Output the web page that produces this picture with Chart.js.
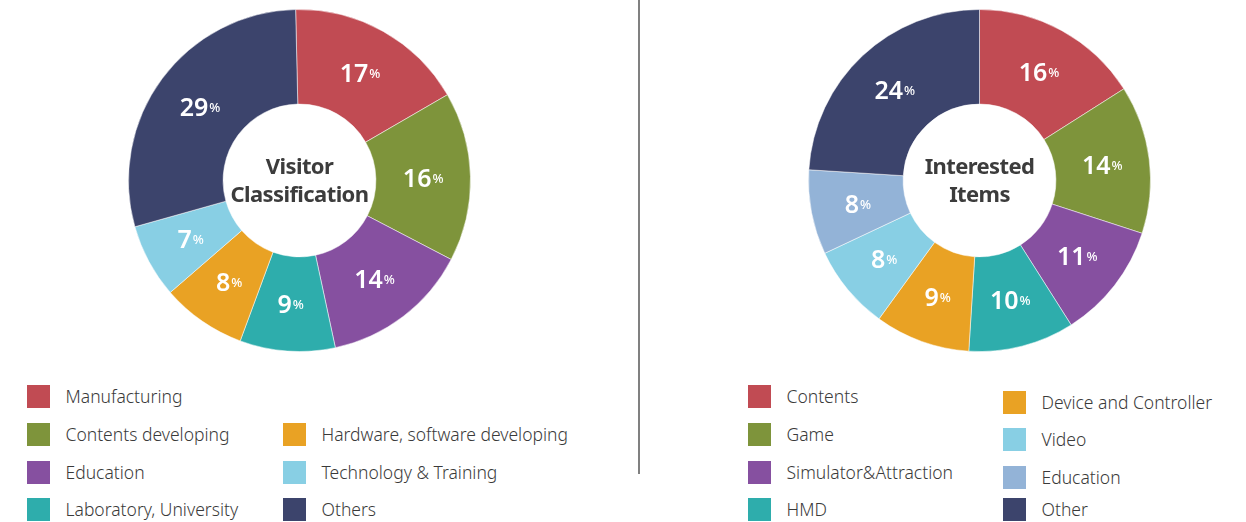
<!DOCTYPE html>
<html><head><meta charset="utf-8">
<script src="https://cdn.jsdelivr.net/npm/chart.js@4.4.0/dist/chart.umd.min.js"></script>
<style>
html,body{margin:0;padding:0;background:#fff;width:1246px;height:522px;overflow:hidden;font-family:"Noto Sans",sans-serif;}
.wrap{position:absolute;width:359px;height:359px;top:1px;}
.title{position:absolute;width:170px;text-align:center;font-weight:700;color:#3c3c3c;font-size:22px;line-height:28px;top:151px;letter-spacing:-0.6px;}
.leg{position:absolute;display:flex;align-items:center;font-size:17.5px;color:#3a3a3a;white-space:nowrap;letter-spacing:0px;font-weight:300;}
.leg span{position:relative;top:-1px;}
.sw{width:23px;height:23px;margin-right:15.5px;flex:none;}
#divider{position:absolute;left:638px;top:0;width:2px;height:474px;background:#808080;}
</style></head><body>
<div class="wrap" style="left:120px"><canvas id="c1"></canvas></div>
<div class="wrap" style="left:800px"><canvas id="c2"></canvas></div>
<div class="title" style="left:214.5px">Visitor<br>Classification</div>
<div class="title" style="left:894.5px">Interested<br>Items</div>
<div id="divider"></div>
<div id="legends"></div>
<script>
// ---- data ----
const visitorCategories = ["Manufacturing","Contents developing","Education","Laboratory, University","Hardware, software developing","Technology & Training","Others"];
const visitorValues = [17,16,14,9,8,7,29];
const itemCategories = ["Contents","Game","Simulator&Attraction","HMD","Device and Controller","Video","Education","Other"];
const itemValues = [16,14,11,10,9,8,8,24];

// ---- styles ----
const visitorColors = ["#C14B53","#7E943B","#8650A0","#2EADAC","#E9A224","#88CFE4","#3C446C"];
const itemColors = ["#C14B53","#7E943B","#8650A0","#2EADAC","#E9A224","#88CFE4","#93B3D7","#3C446C"];

// legend slot layout (x,y of swatch top-left), in category order
const visitorLegendSlots = [[27,385],[27,423],[27,461],[27,498],[283,423],[283,461],[283,498]];
const itemLegendSlots = [[748,385],[748,423],[748,461],[748,498],[1003,391],[1003,428],[1003,466],[1003,498]];

const legendsEl = document.getElementById('legends');
function buildLegend(cats, cols, slots){
  cats.forEach((c,i)=>{
    const d=document.createElement('div');
    d.className='leg';
    d.style.left=slots[i][0]+'px';
    d.style.top=slots[i][1]+'px';
    d.style.height='23px';
    const s=document.createElement('div'); s.className='sw'; s.style.background=cols[i];
    const t=document.createElement('span'); t.textContent=c;
    d.appendChild(s); d.appendChild(t);
    legendsEl.appendChild(d);
  });
}
buildLegend(visitorCategories, visitorColors, visitorLegendSlots);
buildLegend(itemCategories, itemColors, itemLegendSlots);

const pctLabels = {
  id:'pctLabels',
  afterDatasetsDraw(chart){
    const ctx=chart.ctx;
    const meta=chart.getDatasetMeta(0);
    const data=chart.data.datasets[0].data;
    meta.data.forEach((arc,i)=>{
      const p=arc.tooltipPosition();
      const num=String(data[i]);
      ctx.save();
      ctx.fillStyle='#fff';
      ctx.textAlign='left';
      ctx.textBaseline='alphabetic';
      ctx.font='600 25px "Noto Sans"';
      const w1=ctx.measureText(num).width;
      ctx.font='500 13px "Noto Sans"';
      const w2=ctx.measureText('%').width;
      const x0=p.x-(w1+w2+1)/2;
      const base=p.y+9;
      ctx.font='600 25px "Noto Sans"';
      ctx.fillText(num,x0,base);
      ctx.font='500 13px "Noto Sans"';
      ctx.fillText('%',x0+w1+1,base-4);
      ctx.restore();
    });
  }
};

function makeChart(id, cats, vals, cols, rot){
  return new Chart(document.getElementById(id),{
    type:'doughnut',
    data:{labels:cats,datasets:[{data:vals,backgroundColor:cols,borderColor:'rgba(255,255,255,0.5)',borderWidth:1}]},
    options:{
      responsive:true,maintainAspectRatio:false,animation:false,devicePixelRatio:1,
      radius:171,cutout:80,rotation:rot,
      layout:{padding:0},
      plugins:{legend:{display:false},tooltip:{enabled:false}}
    },
    plugins:[pctLabels]
  });
}
makeChart('c1',visitorCategories,visitorValues,visitorColors,-1.3);
makeChart('c2',itemCategories,itemValues,itemColors,0);
</script>
</body></html>
